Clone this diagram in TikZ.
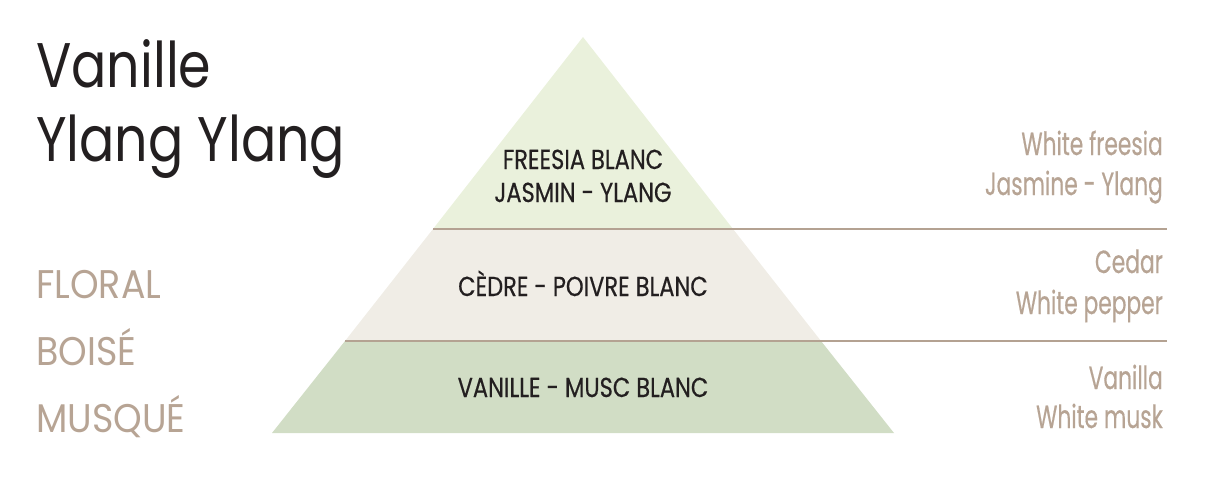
\documentclass[tikz,border=0pt]{standalone}
\usepackage{fontspec}
\newfontfamily\titlefont[FakeStretch=0.83]{Poppins}
\newfontfamily\pyrfont[FakeStretch=0.82,FakeBold=0.5]{Poppins}
\newfontfamily\famfont[FakeStretch=0.91]{Poppins}
\newfontfamily\sidefont[FakeStretch=0.68,FakeBold=0.4]{Poppins}
\definecolor{ink}{RGB}{35,31,32}
\definecolor{tan}{RGB}{183,164,148}
\definecolor{rule}{RGB}{180,162,146}
\definecolor{topband}{RGB}{234,241,220}
\definecolor{midband}{RGB}{240,237,230}
\definecolor{lowband}{RGB}{209,221,197}
\tikzset{
  title/.style={inner sep=0pt, anchor=base west, text=ink, font=\titlefont\fontsize{63}{63}\selectfont},
  family/.style={inner sep=0pt, anchor=base west, text=tan, font=\famfont\fontsize{40}{40}\selectfont},
  note/.style={inner sep=0pt, anchor=base, text=ink, font=\pyrfont\fontsize{27.5}{27.5}\selectfont},
  english/.style={inner sep=0pt, anchor=base east, text=tan, font=\sidefont\fontsize{32}{32}\selectfont},
  divider/.style={draw=rule, line width=2pt},
}
\begin{document}
\begin{tikzpicture}[x=1pt,y=-1pt]
\useasboundingbox (0,0) rectangle (1220,500);
% pyramid geometry
\coordinate (apex) at (583,37);
\coordinate (bl) at (272,433);
\coordinate (br) at (894,433);
\coordinate (l1) at (433,229);
\coordinate (r1) at (733,229);
\coordinate (l2) at (345,341);
\coordinate (r2) at (821,341);
\coordinate (e1) at (1167,229);
\coordinate (e2) at (1167,341);
\fill[topband] (apex) -- (r1) -- (l1) -- cycle;
\fill[midband] (l1) -- (r1) -- (r2) -- (l2) -- cycle;
\fill[lowband] (l2) -- (r2) -- (br) -- (bl) -- cycle;
\draw[divider] (l1) -- (e1);
\draw[divider] (l2) -- (e2);
% title
\node[title] (t1) at (36,88) {Vanille};
\node[title] (t2) at (36,161) {Ylang Ylang};
% families
\node[family] (f1) at (36,298) {FLORAL};
\node[family] (f2) at (36,365) {BOISÉ};
\node[family] (f3) at (36,432) {MUSQUÉ};
% pyramid notes
\node[note] (n1) at (583,169) {FREESIA BLANC};
\node[note] (n2) at (583,202) {JASMIN - YLANG};
\node[note] (n3) at (583,296) {CÈDRE - POIVRE BLANC};
\node[note] (n4) at (583,397) {VANILLE - MUSC BLANC};
% english
\node[english] (w1) at (1163,155) {White freesia};
\node[english] (w2) at (1163,195) {Jasmine - Ylang};
\node[english] (w3) at (1163,273) {Cedar};
\node[english] (w4) at (1163,314) {White pepper};
\node[english] (w5) at (1163,389) {Vanilla};
\node[english] (w6) at (1163,428) {White musk};
\end{tikzpicture}
\end{document}
